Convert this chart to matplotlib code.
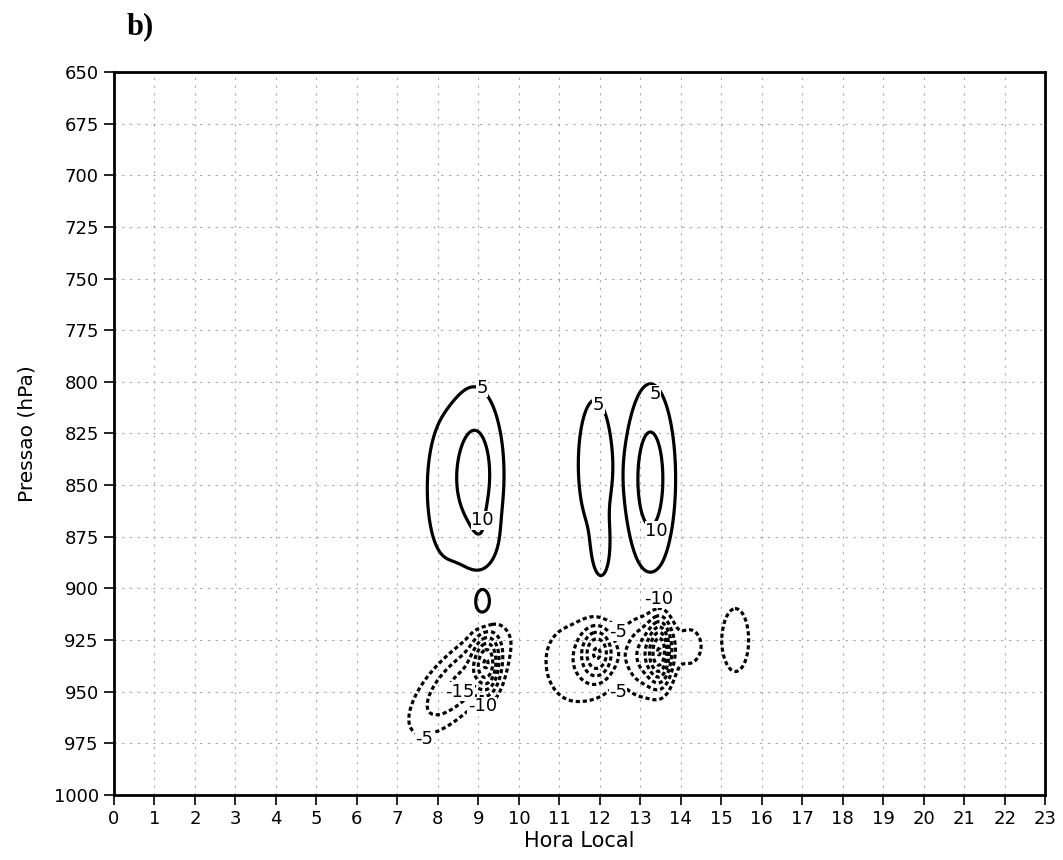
import numpy as np
import matplotlib
matplotlib.use("Agg")
import matplotlib.pyplot as plt

# axis ticks
hour_ticks = list(range(0, 24))
pres_ticks = [650, 675, 700, 725, 750, 775, 800, 825, 850, 875, 900, 925, 950, 975, 1000]

# positive cells: hour, pressure, peak, spread (h, hPa)
pos_hour = [8.93, 8.15, 9.10, 9.12, 11.88, 12.03, 13.25]
pos_pres = [845, 852, 876, 908, 840, 882, 847]
pos_amp = [12.5, 6.5, 6.0, 8.0, 7.0, 6.5, 12.5]
pos_sh = [0.52, 0.55, 0.35, 0.20, 0.50, 0.22, 0.46]
pos_sp = [31, 40, 12, 7, 38, 15, 34]

# negative cells, tilt = hPa shift per hour along the cell axis
neg_hour = [8.50, 9.22, 11.95, 11.40, 13.50, 13.10, 14.20, 15.35]
neg_pres = [945, 937, 931, 936, 930, 932, 928, 925]
neg_amp = [-16.0, -20.0, -20.0, -8.5, -26.0, -16.0, -7.0, -6.5]
neg_sh = [0.80, 0.22, 0.28, 0.70, 0.20, 0.38, 0.28, 0.45]
neg_sp = [12, 10, 9, 18, 11, 13, 9, 21]
neg_tilt = [-15, 0, 0, 0, 0, 0, 0, 0]

levels_pos = [5, 10, 15, 20]
levels_neg = [-45, -40, -35, -30, -25, -20, -15, -10, -5]

# labels: (hour, pressure, text)
label_hour = [9.1, 9.1, 11.97, 13.36, 13.4, 13.45, 12.45, 12.45, 8.55, 9.1, 7.67]
label_pres = [803, 867, 811, 806, 872, 905, 921, 950, 950, 957, 973]
label_text = ["5", "10", "5", "5", "10", "-10", "-5", "-5", "-15", "-10", "-5"]


def gauss(hh, pp, h0, p0, a, sh, sp, tilt=0.0):
    dh = hh - h0
    dp = pp - p0 - tilt * dh
    return a * np.exp(-0.5 * ((dh / sh) ** 2 + (dp / sp) ** 2))


h = np.linspace(0, 23, 921)
p = np.linspace(650, 1000, 701)
hh, pp = np.meshgrid(h, p)

# positive cells joined smoothly, negative cells summed
zpos = np.zeros_like(hh)
for args in zip(pos_hour, pos_pres, pos_amp, pos_sh, pos_sp):
    zpos += gauss(hh, pp, *args) ** 2
zpos = np.sqrt(zpos)
zneg = np.zeros_like(hh)
for args in zip(neg_hour, neg_pres, neg_amp, neg_sh, neg_sp, neg_tilt):
    zneg += gauss(hh, pp, *args)
zz = zpos + zneg

fig = plt.figure(figsize=(10.63, 8.6), dpi=100)
ax = fig.add_axes([0.1072, 0.0756, 0.876, 0.8407])

# grid
for x in hour_ticks[1:]:
    ax.axvline(x, color="#a8a8a8", lw=0.8, ls=(0, (2, 5)), zorder=0)
for y in pres_ticks[1:-1]:
    ax.axhline(y, color="#a8a8a8", lw=0.8, ls=(0, (2, 5)), zorder=0)

ax.contour(hh, pp, zz, levels=levels_pos, colors="black",
           linewidths=2.3, linestyles="solid")
ax.contour(hh, pp, zz, levels=levels_neg, colors="black",
           linewidths=2.3, linestyles=[(0, (1.3, 0.9))])

for lx, ly, lt in zip(label_hour, label_pres, label_text):
    ax.text(lx, ly, lt, fontsize=13, ha="center", va="center", zorder=5,
            bbox=dict(facecolor="white", edgecolor="none", pad=0.3))

ax.set_xlim(0, 23)
ax.set_ylim(1000, 650)
ax.set_xticks(hour_ticks)
ax.set_yticks(pres_ticks)
ax.tick_params(direction="out", length=7, width=1.2, labelsize=13, pad=4)
for s in ax.spines.values():
    s.set_linewidth(2)

ax.set_xlabel("Hora Local", fontsize=15, labelpad=2)
ax.set_ylabel("Pressao (hPa)", fontsize=14.5, labelpad=12)

fig.text(0.119, 0.969, "b)", fontsize=22, fontweight="bold",
         family="Liberation Serif", va="center")

fig.savefig("out.png", dpi=100)
